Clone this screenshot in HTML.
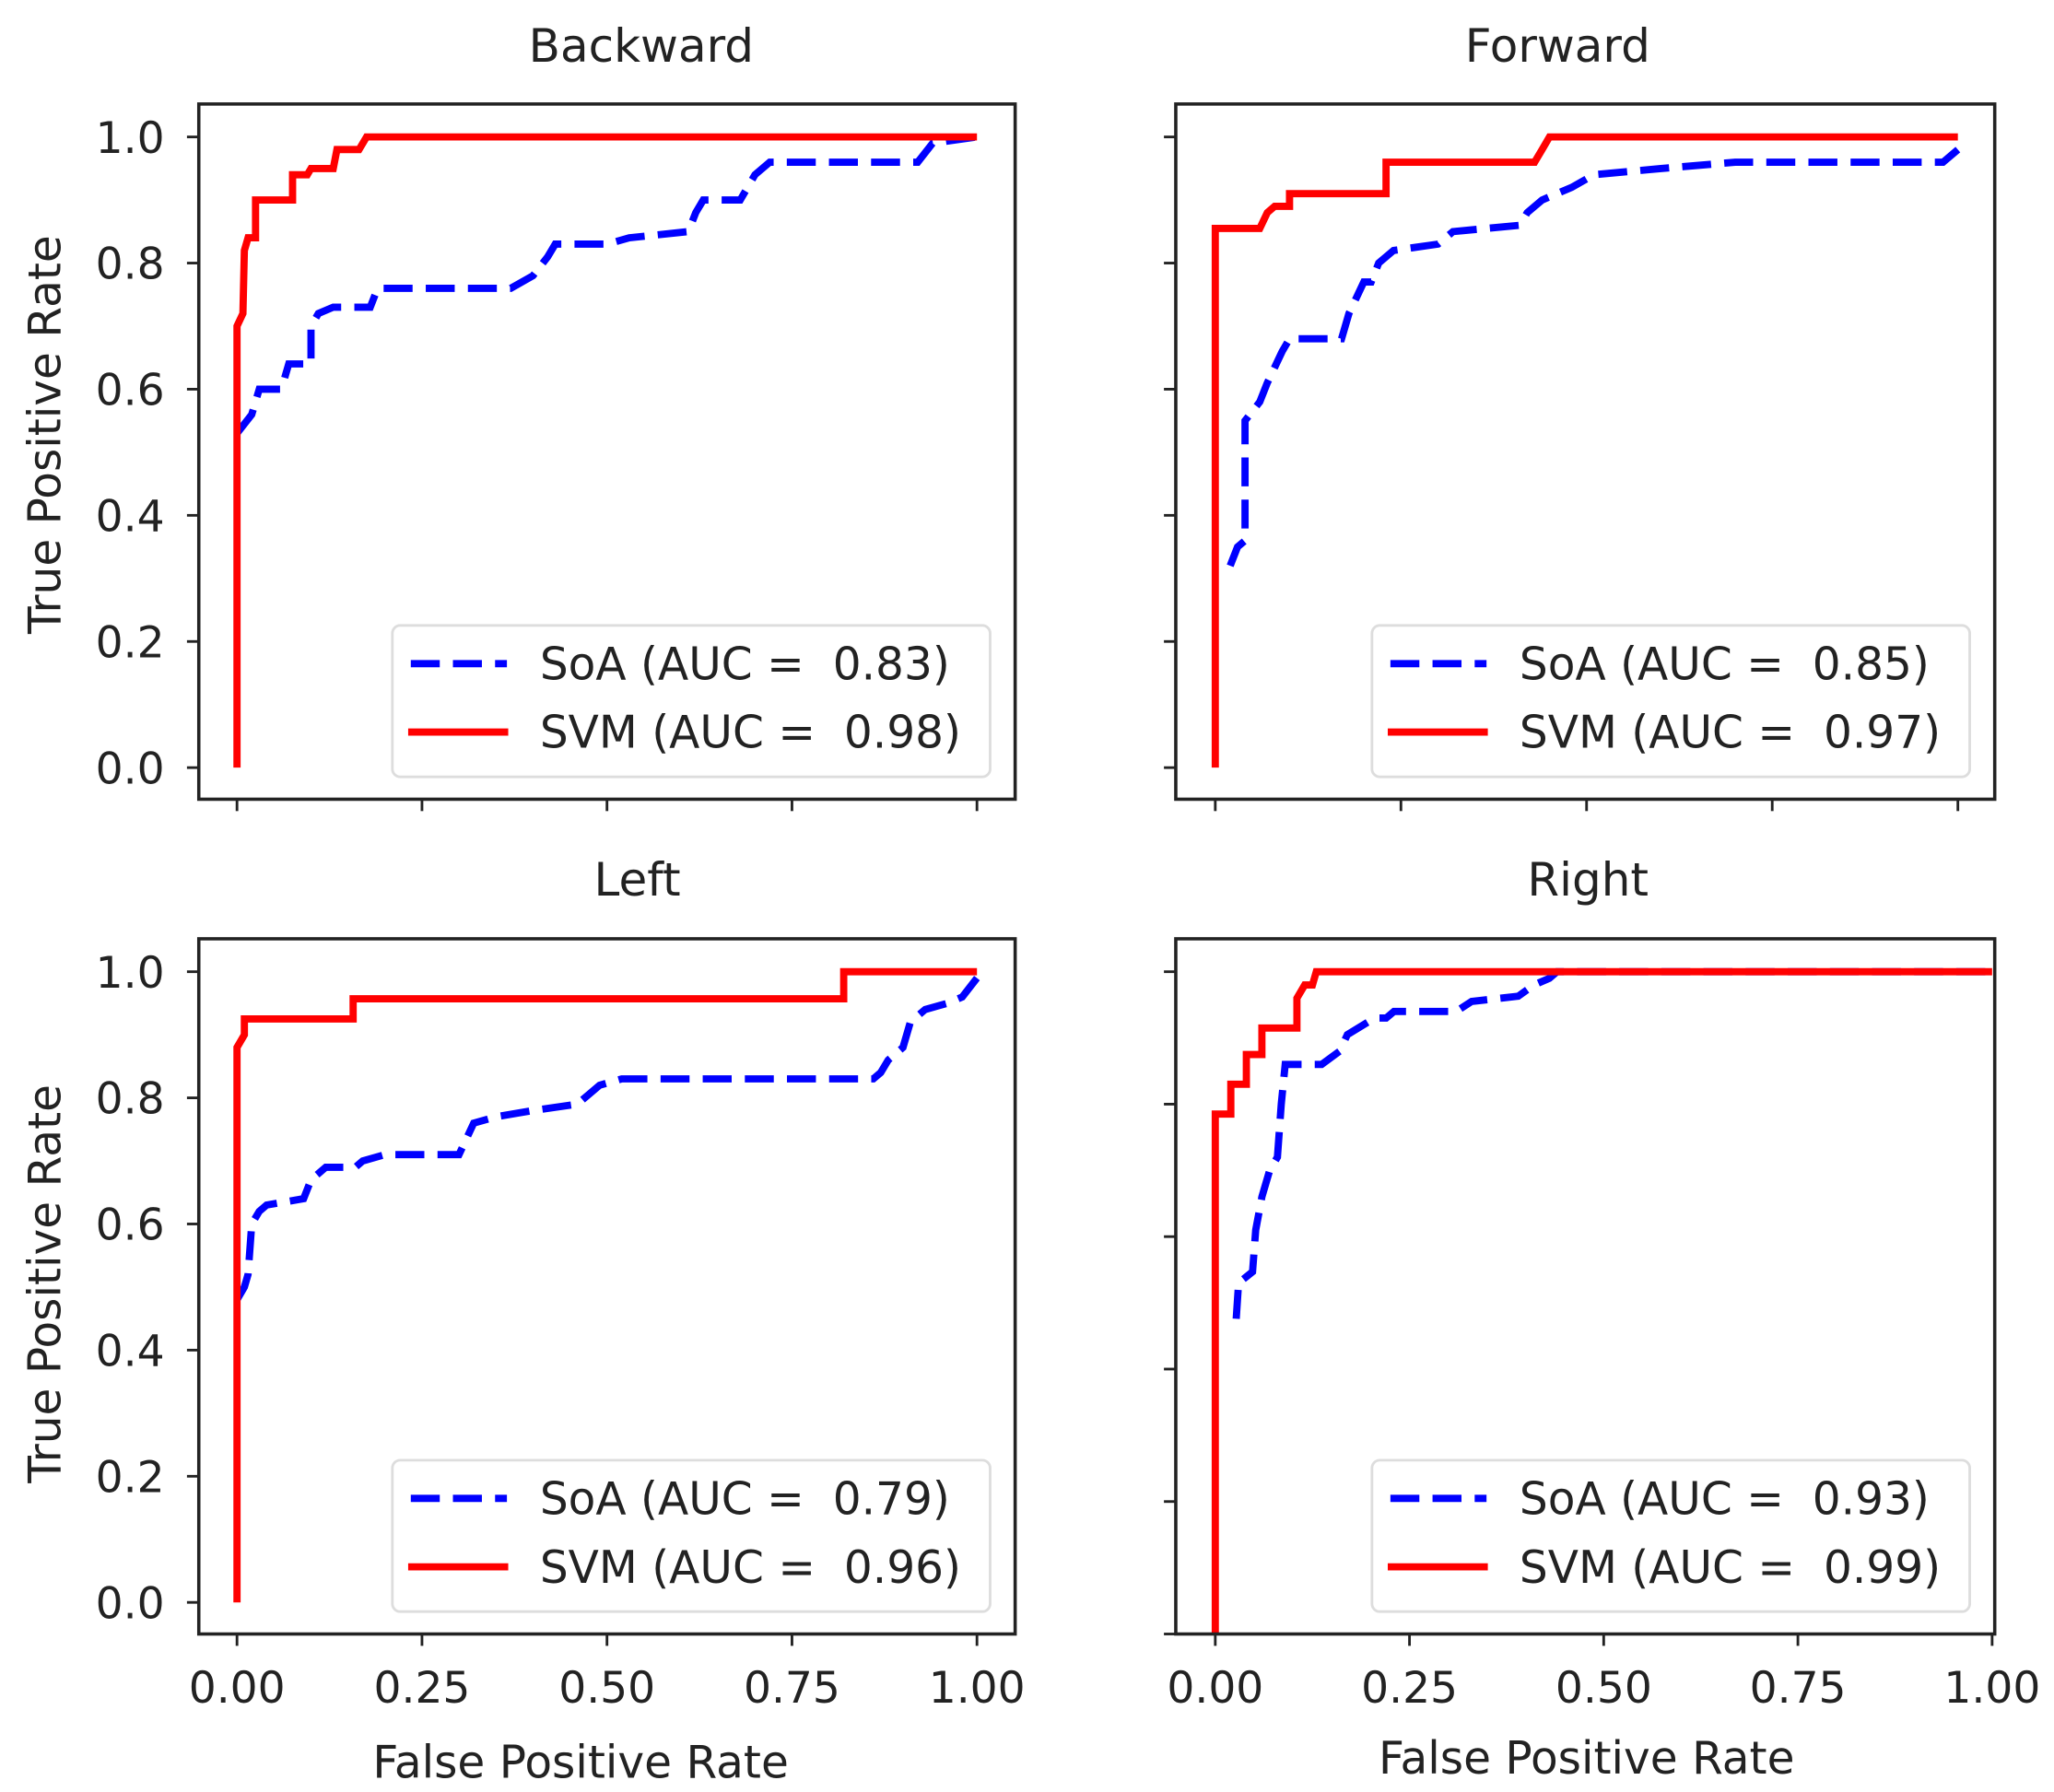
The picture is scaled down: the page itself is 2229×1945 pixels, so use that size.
<!DOCTYPE html>
<html><head><meta charset="utf-8"><style>
html,body{margin:0;padding:0;background:#fff}
svg{display:block}
text{font-family:"DejaVu Sans","Liberation Sans",sans-serif;fill:#222;white-space:pre}
</style></head><body>
<svg id="fig" width="2229" height="1945" viewBox="0 0 1560 1361" preserveAspectRatio="none" xmlns="http://www.w3.org/2000/svg" xml:space="preserve"></svg>
<script>
// ---- data ----
const panelTitles = ["Backward","Forward","Left","Right"];
const soaAUC = ["0.83","0.85","0.79","0.93"];
const svmAUC = ["0.98","0.97","0.96","0.99"];
const xTickLabels = ["0.00","0.25","0.50","0.75","1.00"];
const xTickValues = [0,0.25,0.5,0.75,1];
const yTickLabels = ["0.0","0.2","0.4","0.6","0.8","1.0"];
const yTickValues = [0,0.2,0.4,0.6,0.8,1];

const backwardSvmFpr = [0,0,0.008,0.01,0.015,0.025,0.025,0.075,0.075,0.095,0.1,0.13,0.135,0.165,0.175,1];
const backwardSvmTpr = [0,0.70,0.72,0.82,0.84,0.84,0.90,0.90,0.94,0.94,0.95,0.95,0.98,0.98,1,1];
const backwardSoaFpr = [0,0.02,0.03,0.06,0.07,0.1,0.1,0.11,0.13,0.18,0.19,0.37,0.4,0.42,0.43,0.5,0.53,0.61,0.62,0.63,0.68,0.7,0.72,0.92,0.94,1];
const backwardSoaTpr = [0.53,0.56,0.60,0.60,0.64,0.64,0.70,0.72,0.73,0.73,0.76,0.76,0.78,0.81,0.83,0.83,0.84,0.85,0.88,0.90,0.90,0.94,0.96,0.96,0.99,1];

const forwardSvmFpr = [0,0,0.06,0.07,0.08,0.1,0.1,0.23,0.23,0.43,0.44,0.45,1];
const forwardSvmTpr = [0,0.855,0.855,0.88,0.89,0.89,0.91,0.91,0.96,0.96,0.98,1,1];
const forwardSoaFpr = [0.02,0.03,0.04,0.04,0.06,0.07,0.09,0.1,0.17,0.18,0.2,0.21,0.22,0.24,0.3,0.32,0.41,0.42,0.44,0.48,0.51,0.6,0.7,0.98,1];
const forwardSoaTpr = [0.32,0.35,0.36,0.55,0.58,0.61,0.66,0.68,0.68,0.72,0.77,0.77,0.80,0.82,0.83,0.85,0.86,0.88,0.90,0.92,0.94,0.95,0.96,0.96,0.98];

const leftSvmFpr = [0,0,0.01,0.01,0.157,0.157,0.82,0.82,1];
const leftSvmTpr = [0,0.88,0.90,0.925,0.925,0.957,0.957,1,1];
const leftSoaFpr = [0,0.01,0.015,0.02,0.03,0.04,0.09,0.1,0.12,0.16,0.17,0.2,0.3,0.32,0.35,0.4,0.46,0.49,0.52,0.86,0.87,0.88,0.9,0.91,0.93,0.96,0.98,1];
const leftSoaTpr = [0.48,0.50,0.52,0.60,0.62,0.63,0.64,0.67,0.69,0.69,0.70,0.71,0.71,0.76,0.77,0.78,0.79,0.82,0.83,0.83,0.84,0.86,0.88,0.92,0.94,0.95,0.96,0.99];

const rightSvmFpr = [0,0,0.02,0.02,0.04,0.04,0.06,0.06,0.105,0.105,0.115,0.125,0.13,1];
const rightSvmTpr = [0,0.785,0.785,0.83,0.83,0.875,0.875,0.915,0.915,0.96,0.98,0.98,1,1];
const rightSoaFpr = [0.027,0.03,0.048,0.052,0.06,0.07,0.08,0.085,0.09,0.137,0.16,0.17,0.205,0.22,0.23,0.31,0.33,0.39,0.41,0.43,0.44,1];
const rightSoaTpr = [0.476,0.53,0.547,0.61,0.66,0.70,0.72,0.80,0.86,0.86,0.88,0.905,0.93,0.93,0.94,0.94,0.955,0.963,0.98,0.99,1,1];

const svmFprSets = [backwardSvmFpr, forwardSvmFpr, leftSvmFpr, rightSvmFpr];
const svmTprSets = [backwardSvmTpr, forwardSvmTpr, leftSvmTpr, rightSvmTpr];
const soaFprSets = [backwardSoaFpr, forwardSoaFpr, leftSoaFpr, rightSoaFpr];
const soaTprSets = [backwardSoaTpr, forwardSoaTpr, leftSoaTpr, rightSoaTpr];

// ---- layout ----
const layouts = [
  {bx:151,by:79,bw:620,bh:528,x0:180,x1:742,y0:583,y1:104,xl:false,yl:true, tx:487,ty:35, ly:330},
  {bx:893,by:79,bw:622,bh:528,x0:923,x1:1487,y0:583,y1:104,xl:false,yl:false,tx:1183,ty:35},
  {bx:151,by:713,bw:620,bh:528,x0:180,x1:742,y0:1217,y1:738,xl:true,yl:true,tx:484,ty:668,ly:975,xlx:441,xly:1338},
  {bx:893,by:713,bw:622,bh:528,x0:923,x1:1513,y0:1241,y1:738,xl:true,yl:false,tx:1206,ty:668,xlx:1205,xly:1335}
];
const NS="http://www.w3.org/2000/svg";
const svg=document.getElementById('fig');
function mk(tag,attrs,parent){const e=document.createElementNS(NS,tag);for(const k in attrs)e.setAttribute(k,attrs[k]);(parent||svg).appendChild(e);return e;}
const slug=["backward","forward","left","right"];

layouts.forEach((L,i)=>{
  const g=mk('g',{});
  
  
  const sx=v=>L.x0+(L.x1-L.x0)*v;
  const sy=v=>L.y0+(L.y1-L.y0)*v;
  const cp=mk('clipPath',{id:'cp'+i},g);
  mk('rect',{x:L.bx,y:L.by,width:L.bw,height:L.bh},cp);
  const title=mk('text',{x:L.tx,y:L.ty+12,'text-anchor':'middle','font-size':35},g);
  title.textContent=panelTitles[i];
  
  
  xTickValues.forEach((v,k)=>{
    const t=mk('line',{x1:sx(v),x2:sx(v),y1:L.by+L.bh,y2:L.by+L.bh+9,stroke:'#222','stroke-width':2},g);
    
    
    if(L.xl){const tl=mk('text',{x:sx(v),y:L.by+L.bh+52,'text-anchor':'middle','font-size':33},g);tl.textContent=xTickLabels[k];
      
      }
  });
  yTickValues.forEach((v,k)=>{
    const t=mk('line',{x1:L.bx-9,x2:L.bx,y1:sy(v),y2:sy(v),stroke:'#222','stroke-width':2},g);
    
    
    if(L.yl){const tl=mk('text',{x:L.bx-26,y:sy(v)+12,'text-anchor':'end','font-size':33},g);tl.textContent=yTickLabels[k];
      
      }
  });
  if(L.yl){const yl=mk('text',{x:0,y:0,'text-anchor':'middle','font-size':34,transform:`translate(46,${L.ly}) rotate(-90)`},g);yl.textContent='True Positive Rate';
    
    }
  if(L.xl){const xl=mk('text',{x:L.xlx,y:L.xly+12,'text-anchor':'middle','font-size':34},g);xl.textContent='False Positive Rate';
    
    }
  const pts=(fx,fy)=>fx.map((v,k)=>sx(v).toFixed(1)+','+sy(fy[k]).toFixed(1)).join(' ');
  const soa=mk('polyline',{points:pts(soaFprSets[i],soaTprSets[i]),fill:'none',stroke:'#0000ff','stroke-width':5.5,'stroke-dasharray':'22 10','clip-path':`url(#cp${i})`},g);
  
  
  const svm=mk('polyline',{points:pts(svmFprSets[i],svmTprSets[i]),fill:'none',stroke:'#ff0000','stroke-width':5.5,'clip-path':`url(#cp${i})`},g);
  
  
  const box=mk('rect',{x:L.bx,y:L.by,width:L.bw,height:L.bh,fill:'none',stroke:'#222','stroke-width':2.5},g);
  
  
  const lx=(i%2===0)?298:1042, ly=L.by+396;
  const lg=mk('g',{},g);
  
  
  mk('rect',{x:lx,y:ly,width:454,height:115,rx:6,fill:'#fff','fill-opacity':0.85,stroke:'#ddd','stroke-width':2},lg);
  mk('line',{x1:lx+14,x2:lx+87,y1:ly+29,y2:ly+29,stroke:'#0000ff','stroke-width':5.5,'stroke-dasharray':'22 10'},lg);
  mk('line',{x1:lx+12,x2:lx+88,y1:ly+81,y2:ly+81,stroke:'#ff0000','stroke-width':5.5},lg);
  const t1=mk('text',{x:lx+112,y:ly+41,'font-size':34},lg);t1.textContent='SoA (AUC =\u00a0\u00a00.'+soaAUC[i].slice(2)+')';
  
  
  const t2=mk('text',{x:lx+112,y:ly+93,'font-size':34},lg);t2.textContent='SVM (AUC =\u00a0\u00a00.'+svmAUC[i].slice(2)+')';
  
  
});
</script>
</body></html>
